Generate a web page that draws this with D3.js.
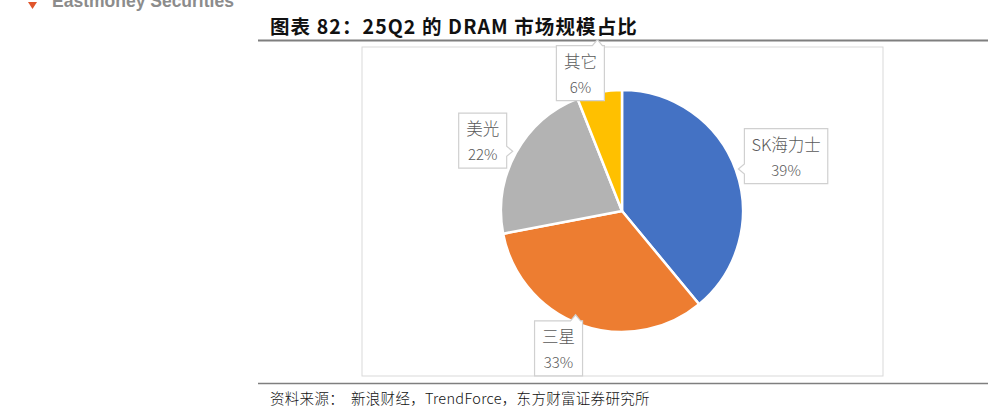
<!DOCTYPE html>
<html><head><meta charset="utf-8">
<script src="https://cdn.jsdelivr.net/npm/d3@7"></script>
<style>
html,body{margin:0;padding:0;background:#fff;}
svg{display:block;}
</style></head>
<body>
<svg id="c" width="993" height="413"></svg>
<script>
const categories = ["SK海力士", "三星", "美光", "其它"];
const values = [39, 33, 22, 6];
const percentLabels = ["39%", "33%", "22%", "6%"];
const colors = ["#4472C4", "#ED7D31", "#B3B3B3", "#FFC000"];
const titleText = "图表 82：25Q2 的 DRAM 市场规模占比";
const sourceText = "资料来源：  新浪财经，TrendForce，东方财富证券研究所";

// layout (styling, not data)
const labelRadius = [1.43, 1.25, 1.29, 1.19];
const labelAngleShift = [1.3, 5, -2, -6];

const svg = d3.select("#c");
const cjk = "'Noto Sans CJK SC','Noto Sans',sans-serif";

// header logo (cut off at top, as in the reference)
svg.append("path").attr("d","M28,2 L37,2 L32.5,9 Z").attr("fill","#E0552B");
svg.append("text").attr("x",52).attr("y",7).attr("font-family","'Liberation Sans',Arial,sans-serif")
  .attr("font-weight","bold").attr("font-size",17.5).attr("fill","#8c8c8c").text("Eastmoney Securities");

// title
svg.append("text").attr("x",270).attr("y",34).attr("font-family",cjk).attr("font-weight","bold")
  .attr("font-size",19.5).attr("letter-spacing",1.1).attr("fill","#111").text(titleText);
svg.append("line").attr("x1",258).attr("x2",988).attr("y1",40.5).attr("y2",40.5)
  .attr("stroke","#7f7f7f").attr("stroke-width",2);

// chart box
svg.append("rect").attr("x",362).attr("y",47).attr("width",521).attr("height",329)
  .attr("fill","#fff").attr("stroke","#d9d9d9").attr("stroke-width",1);

// footer
svg.append("line").attr("x1",258).attr("x2",988).attr("y1",383.5).attr("y2",383.5)
  .attr("stroke","#7f7f7f").attr("stroke-width",1.5);
svg.append("text").attr("x",270).attr("y",404).attr("font-family",cjk).attr("font-weight",300)
  .attr("font-size",14.5).attr("letter-spacing",0.3).attr("fill","#111").attr("xml:space","preserve").text(sourceText);

// pie
const cx = 622, cy = 211, r = 121;
const data = categories.map((c,i)=>({name:c, value:values[i], pct:percentLabels[i], color:colors[i], lr:labelRadius[i], sh:labelAngleShift[i]}));
const pie = d3.pie().value(d=>d.value).sort(null);
const arc = d3.arc().innerRadius(0).outerRadius(r);
const arcs = pie(data);
const g = svg.append("g").attr("transform",`translate(${cx},${cy})`);
g.selectAll("path.s").data(arcs).join("path").attr("class","s")
  .attr("d",arc).attr("fill",d=>d.data.color).attr("stroke","#fff").attr("stroke-width",2.5)
  .attr("stroke-linejoin","round");

// callout labels
const lg = svg.append("g");
arcs.forEach(a=>{
  const mid = (a.startAngle+a.endAngle)/2;
  const la = mid + a.data.sh*Math.PI/180;
  const lx = cx + Math.sin(la)*r*a.data.lr;
  const ly = cy - Math.cos(la)*r*a.data.lr;
  const tmp = lg.append("text").attr("font-family",cjk).attr("font-weight",300).attr("font-size",16.5).text(a.data.name);
  const tw = tmp.node().getComputedTextLength(); tmp.remove();
  const w = Math.max(tw + 14, 48), h = 55;
  const x0 = lx - w/2, y0 = ly - h/2, x1 = x0 + w, y1 = y0 + h;
  const tx = cx + Math.sin(mid)*(r+3), ty = cy - Math.cos(mid)*(r+3);
  let p;
  const nb = 5;
  if (tx < x0) {
    const yy = Math.max(y0+nb+2, Math.min(y1-nb-2, ty));
    p = `M${x0},${y0}H${x1}V${y1}H${x0}V${yy+nb}L${x0-6},${yy}L${x0},${yy-nb}Z`;
  } else if (tx > x1) {
    const yy = Math.max(y0+nb+2, Math.min(y1-nb-2, ty));
    p = `M${x0},${y0}H${x1}V${yy-nb}L${x1+6},${yy}L${x1},${yy+nb}V${y1}H${x0}Z`;
  } else if (ty > y1) {
    const xx = Math.max(x0+nb+2, Math.min(x1-nb-2, tx));
    p = `M${x0},${y0}H${x1}V${y1}H${xx+nb}L${xx},${y1+6}L${xx-nb},${y1}H${x0}Z`;
  } else {
    const xx = Math.max(x0+nb+2, Math.min(x1-nb-2, tx));
    p = `M${x0},${y0}H${xx-nb}L${xx},${y0-6}L${xx+nb},${y0}H${x1}V${y1}H${x0}Z`;
  }
  lg.append("path").attr("d",p).attr("fill","#fff").attr("stroke","#d0d0d0").attr("stroke-width",1.2);
  lg.append("text").attr("x",lx).attr("y",y0+22).attr("text-anchor","middle")
    .attr("font-family",cjk).attr("font-weight",300).attr("font-size",16.5).attr("fill","#595959").text(a.data.name);
  lg.append("text").attr("x",lx).attr("y",y0+47).attr("text-anchor","middle")
    .attr("font-family",cjk).attr("font-weight",300).attr("font-size",15).attr("fill","#595959").text(a.data.pct);
});
</script>
</body></html>
